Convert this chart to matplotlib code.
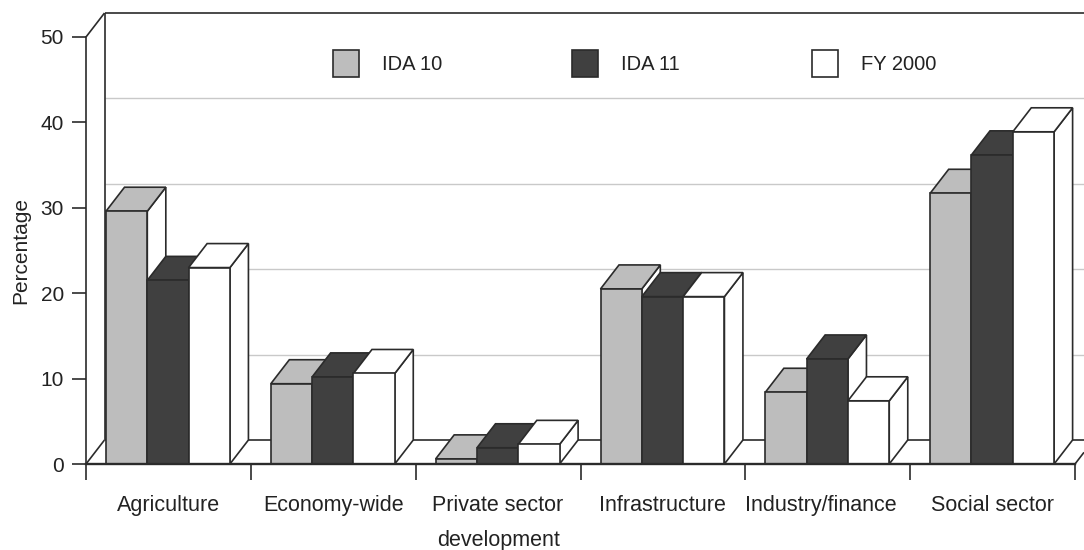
import matplotlib
matplotlib.use("Agg")
import matplotlib.pyplot as plt
from matplotlib.patches import Polygon, Rectangle
from matplotlib.transforms import ScaledTranslation

plt.rcParams['font.family'] = ['Liberation Sans', 'DejaVu Sans']

categories = ['Agriculture', 'Economy-wide', 'Private sector\ndevelopment',
              'Infrastructure', 'Industry/finance', 'Social sector']
ida10 = [29.6, 9.4, 0.6, 20.5, 8.4, 31.7]
ida11 = [21.5, 10.2, 1.9, 19.6, 12.3, 36.2]
fy2000 = [23.0, 10.6, 2.3, 19.6, 7.4, 38.9]
series_names = ['IDA 10', 'IDA 11', 'FY 2000']
y_ticks = [0, 10, 20, 30, 40, 50]

GREY = '#bdbdbd'
DARK = '#404040'
WHITE = '#ffffff'
EDGE = '#2b2b2b'
GRID = '#c9c9c9'
TEXT = '#222222'

fig = plt.figure(figsize=(10.84, 5.5), dpi=100)
ax = fig.add_axes([86 / 1084, (550 - 464) / 550, (1075 - 86) / 1084, (464 - 37) / 550])
ax.set_xlim(0, 6)
ax.set_ylim(0, 50)

# fake 3d depth, in data units
dx = 18.5 / 164.8
dy = 24 / 8.54
x_end = 6 + 9 / 164.8
bar_w = 41.3 / 164.8
bar_off = 20 / 164.8
lw = 1.2


def line(xs, ys, color=EDGE, width=lw, z=1):
    ax.plot(xs, ys, color=color, lw=width, clip_on=False, zorder=z, solid_capstyle='butt')


# back wall
for v in y_ticks[1:-1]:
    line([dx, x_end], [v + dy, v + dy], color=GRID, width=1.0)
line([dx, x_end], [50 + dy, 50 + dy])
line([dx, dx], [dy, 50 + dy])
line([0, dx], [50, 50 + dy])
line([dx, x_end], [dy, dy])

# floor diagonals at the two ends
line([0, dx], [0, dy])
line([6, x_end], [0, (x_end - 6) / dx * dy])

# bars, left to right so later ones cover earlier sides
z = 3
for i in range(len(categories)):
    for j, (vals, col) in enumerate(zip([ida10, ida11, fy2000], [GREY, DARK, WHITE])):
        x0 = i + bar_off + j * bar_w
        x1 = x0 + bar_w
        v = vals[i]
        ax.add_patch(Polygon([(x1, 0), (x1 + dx, dy), (x1 + dx, v + dy), (x1, v)],
                             facecolor=WHITE, edgecolor=EDGE, lw=lw,
                             clip_on=False, zorder=z))
        ax.add_patch(Polygon([(x0, v), (x0 + dx, v + dy), (x1 + dx, v + dy), (x1, v)],
                             facecolor=col, edgecolor=EDGE, lw=lw, clip_on=False, zorder=z))
        ax.add_patch(Rectangle((x0, 0), bar_w, v, facecolor=col, edgecolor=EDGE, lw=lw,
                               clip_on=False, zorder=z))
        z += 1

for s in ['top', 'right']:
    ax.spines[s].set_visible(False)
ax.spines['left'].set_linewidth(lw)
ax.spines['left'].set_color(EDGE)
ax.spines['bottom'].set_linewidth(1.7)
ax.spines['bottom'].set_color(EDGE)
ax.spines['bottom'].set_zorder(100)

ax.set_yticks(y_ticks)
ax.tick_params(axis='y', length=10, width=lw, color=EDGE, labelsize=15, pad=6, labelcolor=TEXT)
ax.set_xticks(range(7))
ax.set_xticklabels([])
ax.tick_params(axis='x', which='major', length=11.5, width=lw, color=EDGE)
ax.set_xticks([i + 0.5 for i in range(6)], minor=True)
ax.set_xticklabels(categories, minor=True, fontsize=15.5, linespacing=1.85, color=TEXT)
ax.tick_params(axis='x', which='minor', length=0, pad=22.5)
ax.set_ylabel('Percentage', fontsize=15, color=TEXT)
ax.yaxis.set_label_coords(-56 / 989, 0.5)

# original nudges this label left to clear its neighbour
lab = ax.get_xticklabels(minor=True)[4]
lab.set_transform(lab.get_transform() + ScaledTranslation(-7 / 100, 0, fig.dpi_scale_trans))

# legend
swatch_x = [333, 572, 812]
for px, name, col in zip(swatch_x, series_names, [GREY, DARK, WHITE]):
    fig.add_artist(Rectangle((px / 1084, (550 - 77) / 550), 26 / 1084, 27 / 550,
                             facecolor=col, edgecolor=EDGE, lw=lw, transform=fig.transFigure))
    fig.text((px + 49) / 1084, (550 - 63) / 550, name, fontsize=14.5, va='center_baseline', color=TEXT)

fig.savefig('out.png', dpi=100)
